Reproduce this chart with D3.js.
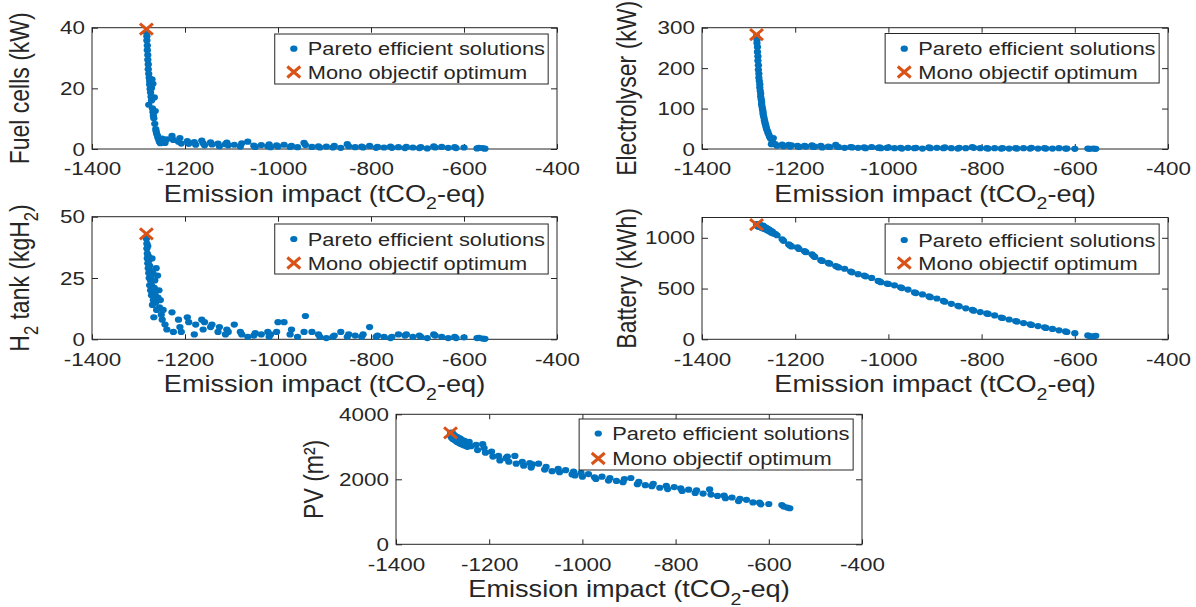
<!DOCTYPE html>
<html><head><meta charset="utf-8">
<script src="https://cdn.jsdelivr.net/npm/d3@7"></script>
<style>
body{margin:0;background:#fff}
svg text{font-family:"Liberation Sans",Arial,Helvetica,sans-serif;fill:#262626}
</style>
</head><body>
<svg id="c" width="1196" height="607"></svg>
<script>
// ---------------- DATA ----------------
const emission = [
-1283,-1282,-1282,-1281,-1281,-1280,-1280,-1279,-1279,-1278,-1278,-1277,-1276,-1276,-1275,-1274,-1274,-1273,-1272,-1272,
-1271,-1270,-1269,-1269,-1268,-1267,-1266,-1265,-1264,-1263,-1262,-1261,-1259,-1258,-1256,-1255,-1253,-1251,-1249,-1247,
-1243,-1239,-1228,-1225,-1214,-1211,-1208,-1195,-1192,-1180,-1177,-1164,-1161,-1158,-1145,-1142,-1129,-1126,-1113,-1110,
-1107,-1094,-1081,-1078,-1065,-1052,-1049,-1036,-1022,-1019,-1016,-1003,-1000,-987,-974,-971,-958,-944,-941,-927,
-913,-910,-896,-882,-879,-865,-851,-848,-834,-820,-817,-803,-789,-786,-772,-758,-755,-741,-727,-724,
-710,-696,-693,-679,-665,-662,-648,-634,-620,-617,-600,-572,-568,-560,-555];

const fuelCells = [
38.5,37.2,35.8,34.1,32.6,31.0,29.4,27.9,26.3,24.8,14.6,23.5,22.4,21.3,19.8,22.0,18.6,17.2,20.1,16.0,
23.0,13.4,12.2,21.5,11.0,10.1,17.0,8.3,12.5,6.6,5.8,5.0,4.3,3.6,3.0,2.4,1.9,2.6,3.4,2.1,
2.0,3.2,4.3,3.0,2.4,3.6,1.8,2.6,1.7,2.3,1.4,2.8,1.9,1.2,2.2,1.5,1.8,0.9,1.6,2.1,
1.2,1.4,0.8,1.9,2.4,1.1,0.7,1.3,0.9,1.5,0.6,1.2,0.8,1.4,0.7,1.0,0.6,2.0,1.3,0.7,
0.9,0.5,0.8,0.5,1.0,0.4,1.6,0.9,0.6,0.8,0.5,1.0,0.4,0.7,0.5,0.8,0.4,0.6,0.3,0.7,
0.5,0.3,0.6,0.2,0.9,0.5,0.7,0.4,0.6,0.3,0.5,0.2,0.4,0.3,0.1];

const electrolyser = [
279,270,262,252,240,229,218,207,196,186,176,168,160,152,144,137,130,123,116,110,
104,98,92,87,82,77,71,66,61,57,52,48,43,39,34,30,26,12,18,27,
12,8,11,7,10,6,9,8,5,8,6,9,5,6,8,4,6,5,10,6,
5,3,5,4,3,4,2,5,3,4,2,3,4,2,3,1,3,2,3,1,
4,2,3,2,4,2,1,3,2,5,3,2,2,1,2,1,2,1,2,1,
2,1,3,1,2,1,1,2,1,1,0.5,1,0.5,1,0.5];

const h2Tank = [
41,39,37,35,33,31,38,29,34,27,32,25,30,22,28,20,24,26,18,22,
33,14,19,27,16,9,21,24,18,15,29,12,26,17,20,13,16,10,8,12,
6,4,11,3,8,5,3,9,7,2,6,8,4,7,5,6,3,5,2,4,
3,6,3,2,1,1.5,2.5,2,3,1,2,3,7,7,2,4,1,3,9.5,3,
2,1,0.5,1,1.5,3,1,2,1.5,1,2,5,1,1.5,1,0.5,1,2,1.5,2,
1,1.5,1,0.5,2,1.5,1,0.5,1,0.5,0.8,0.5,0.6,0.3,0.2];

const battery = [
1128,1135,1122,1130,1118,1126,1112,1124,1131,1116,1108,1120,1127,1110,1118,1104,1122,1113,1100,1116,
1107,1095,1119,1102,1110,1090,1105,1097,1084,1100,1092,1078,1088,1070,1080,1062,1072,1050,1060,1042,
1040,1025,985,970,935,925,915,905,890,868,858,838,822,812,780,772,752,745,722,715,
708,695,668,660,642,628,620,605,575,570,562,550,545,532,512,505,490,462,455,442,
422,415,402,378,370,350,330,325,305,290,282,268,255,250,235,215,210,195,180,175,
160,148,142,130,118,112,102,88,78,72,60,38,32,28,35];

const pv = [
3380,3440,3320,3410,3290,3390,3350,3260,3420,3330,3240,3380,3300,3360,3220,3340,3270,3200,3320,3250,
3180,3310,3230,3150,3290,3210,3130,3270,3190,3100,3250,3160,3080,3210,3120,3050,3180,3030,3130,3000,
3150,3020,3060,2900,3080,2960,2820,2850,2700,2720,2580,2650,2700,2540,2720,2480,2540,2420,2500,2360,
2460,2480,2300,2380,2250,2320,2220,2280,2150,2240,2120,2200,2080,2160,2060,2010,2080,1960,2040,1950,
1910,2010,2040,1850,1920,1820,1790,1860,1740,1800,1700,1760,1720,1640,1680,1580,1660,1560,1690,1530,
1490,1500,1420,1440,1330,1400,1370,1290,1280,1230,1240,1210,1160,1130,1110];

// mono-objective optimum
const optimumEmission = [-1283];
const optimumFuelCells = [39.5];
const optimumElectrolyser = [283];
const optimumH2Tank = [43];
const optimumBattery = [1130];
const optimumPV = [3430];

const xTicks = [-1400,-1200,-1000,-800,-600,-400];
const fuelCellTicks = [0,20,40];
const electrolyserTicks = [0,100,200,300];
const h2TankTicks = [0,25,50];
const batteryTicks = [0,500,1000];
const pvTicks = [0,2000,4000];
const legendLabels = ["Pareto efficient solutions","Mono objectif optimum"];

// ---------------- STYLE / LAYOUT ----------------
const BLUE = "#0072BD", RED = "#D95319", AX = "#262626";
const SX = 1.18;          // horizontal text stretch of the reference
const FS_TICK = 19, FS_LEG = 18.5, FS_LAB = 23;
const DOT = 3.1;

const panels = [
  {vals:fuelCells, opt:optimumFuelCells, ticks:fuelCellTicks, yMax:40,
   box:[92,27.7,465,121.3], ylab:[["Fuel cells (kW)",0]], ylabOff:63, legY:[34,84,48.7,72]},
  {vals:electrolyser, opt:optimumElectrolyser, ticks:electrolyserTicks, yMax:300,
   box:[702,27.7,466,121.3], ylab:[["Electrolyser (kW)",0]], ylabOff:66, legY:[33.5,83,48.7,72]},
  {vals:h2Tank, opt:optimumH2Tank, ticks:h2TankTicks, yMax:50,
   box:[92,216.7,465,122.6], ylab:[["H",0],["2",1],[" tank (kgH",0],["2",1],[")",0]], ylabOff:63, legY:[224,274,239,263]},
  {vals:battery, opt:optimumBattery, ticks:batteryTicks, yMax:1200,
   box:[702,217.5,466,121.8], ylab:[["Battery (kWh)",0]], ylabOff:66, legY:[224,274,240,263]},
  {vals:pv, opt:optimumPV, ticks:pvTicks, yMax:4000,
   box:[396,414.3,466,130], ylab:[["PV (m²)",0]], ylabOff:73, legY:[419,470,433.5,458.5]}
];

const svg = d3.select("#c");

function richText(g, parts, fs){
  const t = g.append("text").attr("font-size", fs);
  let sub = false;
  parts.forEach(([s,isSub])=>{
    const ts = t.append("tspan").text(s);
    if(isSub && !sub){ ts.attr("dy", fs*0.32).attr("font-size", fs*0.72); sub=true; }
    else if(isSub){ ts.attr("font-size", fs*0.72); }
    else if(sub){ ts.attr("dy", -fs*0.32); sub=false; }
  });
  return t;
}

function xMarker(g, cx, cy, r){
  g.append("path")
   .attr("d", `M${cx-r*SX},${cy-r}L${cx+r*SX},${cy+r}M${cx-r*SX},${cy+r}L${cx+r*SX},${cy-r}`)
   .attr("stroke", RED).attr("stroke-width", 3).attr("fill","none");
}

panels.forEach(p=>{
  const [x0,y0,w,h] = p.box;
  const g = svg.append("g");
  const xs = d3.scaleLinear().domain([-1400,-400]).range([x0, x0+w]);
  const ys = d3.scaleLinear().domain([0,p.yMax]).range([y0+h, y0]);

  const styleAxis = sel=>{
    sel.select(".domain").remove();
    sel.selectAll(".tick line").attr("stroke", AX).attr("stroke-width",1);
    sel.selectAll(".tick text").attr("fill", AX).attr("font-size", FS_TICK)
       .attr("transform", `scale(${SX},1)`);
    sel.attr("font-family", null);
  };
  g.append("g").attr("transform",`translate(0,${y0+h})`)
   .call(d3.axisBottom(xs).tickValues(xTicks).tickSize(-5).tickPadding(13).tickFormat(d=>String(d)))
   .call(styleAxis);
  g.append("g").attr("transform",`translate(0,${y0})`)
   .call(d3.axisTop(xs).tickValues(xTicks).tickSize(-5).tickFormat(""))
   .call(styleAxis);
  g.append("g").attr("transform",`translate(${x0},0)`)
   .call(d3.axisLeft(ys).tickValues(p.ticks).tickSize(-6).tickPadding(6).tickFormat(d=>String(d)))
   .call(styleAxis);
  g.append("g").attr("transform",`translate(${x0+w},0)`)
   .call(d3.axisRight(ys).tickValues(p.ticks).tickSize(-6).tickFormat(""))
   .call(styleAxis);
  g.append("rect").attr("x",x0).attr("y",y0).attr("width",w).attr("height",h)
   .attr("fill","none").attr("stroke",AX).attr("stroke-width",1);

  // Pareto points
  g.append("g").selectAll("ellipse").data(emission.map((e,i)=>[e,p.vals[i]])).join("ellipse")
   .attr("cx", d=>xs(d[0])).attr("cy", d=>ys(d[1])).attr("rx", DOT*SX).attr("ry", DOT)
   .attr("fill", BLUE);
  // optimum
  optimumEmission.forEach((e,i)=> xMarker(g, xs(e), ys(p.opt[i]), 5.5));

  // x label
  const xl = g.append("g").attr("transform",`translate(${x0+w/2},${y0+h+53}) scale(${SX},1)`);
  richText(xl, [["Emission impact (tCO",0],["2",1],["-eq)",0]], FS_LAB).attr("text-anchor","middle");

  // y label
  const yl = g.append("g").attr("transform",`translate(${x0-p.ylabOff},${y0+h/2}) scale(${SX},1) rotate(-90)`);
  richText(yl, p.ylab, FS_LAB).attr("text-anchor","middle");

  // legend
  const [lt, lb, r1, r2] = p.legY;
  const lx0 = x0 + 0.393*w, lx1 = x0 + 0.981*w;
  g.append("rect").attr("x",lx0).attr("y",lt).attr("width",lx1-lx0).attr("height",lb-lt)
   .attr("fill","#fff").attr("stroke",AX).attr("stroke-width",1);
  const mx = x0 + 0.434*w, tx = x0 + 0.464*w;
  g.append("ellipse").attr("cx",mx).attr("cy",r1).attr("rx",DOT*SX).attr("ry",DOT).attr("fill",BLUE);
  xMarker(g, mx, r2, 5.5);
  [r1,r2].forEach((ry,i)=>{
    g.append("text").attr("transform",`translate(${tx},${ry+6.6}) scale(${SX},1)`)
     .attr("font-size",FS_LEG).text(legendLabels[i]);
  });
});
</script>
</body></html>
